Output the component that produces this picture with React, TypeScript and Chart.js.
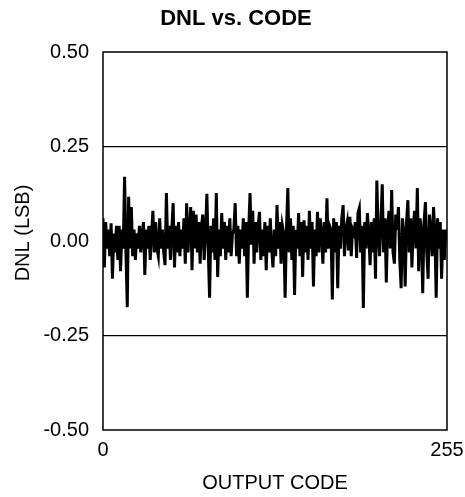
import React, { useEffect, useRef } from "react";
import { Chart, registerables } from "chart.js";

Chart.register(...registerables);

const TITLE = "DNL vs. CODE";
const X_TITLE = "OUTPUT CODE";
const Y_TITLE = "DNL (LSB)";
const X_TICKS = [0, 255];
const Y_TICKS = [-0.5, -0.25, 0, 0.25, 0.5];

// DNL per output code 0..255 (LSB)
const DNL = [
  0.06, -0.07, 0.05, -0.02, 0.03, -0.04, 0.047, -0.1, 0.02, -0.03, 0.04, -0.05, 0.04, -0.08, 0.03, -0.02,
  0.17, -0.03, -0.175, 0.117, -0.02, 0.09, -0.04, 0.03, -0.05, 0.02, -0.02, 0.04, -0.03, 0.02, 0.05, -0.09,
  0.03, -0.02, 0.04, -0.05, 0.02, 0.08, -0.03, 0.05, -0.02, -0.04, 0.06, -0.02, 0.03, -0.03, -0.064, 0.127,
  -0.02, 0.04, -0.05, 0.03, 0.1, -0.07, 0.04, -0.03, 0.05, -0.04, 0.03, -0.02, 0.06, -0.06, 0.1, -0.03,
  0.03, 0.09, -0.077, 0.08, -0.02, 0.07, -0.03, 0.05, -0.06, 0.04, 0.07, -0.05, 0.02, 0.125, -0.02, -0.15,
  0.04, -0.03, 0.06, -0.05, 0.127, -0.095, 0.03, -0.04, 0.074, -0.02, 0.05, -0.05, 0.04, -0.03, 0.06, -0.04,
  0.02, 0.03, 0.1, -0.04, 0.04, -0.06, 0.03, -0.02, 0.06, -0.04, 0.05, -0.15, 0.03, 0.127, -0.01, 0.08,
  -0.06, 0.05, -0.03, 0.04, 0.077, -0.05, 0.03, -0.04, 0.05, -0.077, 0.04, -0.03, 0.06, -0.02, -0.07, 0.03,
  -0.04, 0.095, -0.02, 0.05, -0.06, 0.04, 0.02, -0.15, 0.03, 0.14, -0.03, 0.06, -0.05, 0.04, -0.143, 0.03,
  -0.02, 0.074, -0.04, 0.05, -0.095, 0.055, -0.03, 0.04, -0.05, 0.08, -0.02, 0.05, -0.12, 0.03, -0.04, 0.077,
  -0.03, 0.06, 0.02, -0.06, 0.05, -0.03, 0.113, -0.02, 0.04, 0.03, -0.155, 0.06, -0.03, 0.05, -0.125, 0.04,
  -0.02, 0.06, 0.095, -0.04, 0.03, 0.05, -0.025, 0.064, -0.04, 0.03, 0.02, 0.05, -0.045, 0.074, 0.087, -0.03,
  0.04, -0.177, 0.05, -0.02, 0.074, 0.02, -0.064, 0.05, -0.03, 0.06, -0.1, 0.16, 0.02, -0.04, 0.05, 0.15,
  -0.03, 0.06, -0.11, 0.04, 0.08, -0.02, 0.135, -0.03, -0.06, 0.07, 0.03, 0.09, -0.05, -0.125, 0.06, 0.02,
  -0.12, 0.05, 0.108, -0.03, 0.06, -0.07, 0.04, 0.08, -0.02, 0.14, -0.08, 0.06, 0.03, -0.138, 0.05, 0.103,
  -0.03, -0.1, 0.07, 0.03, -0.04, 0.09, 0.02, -0.15, 0.06, -0.02, 0.05, -0.1, 0.03, -0.05, 0.03, 0.0,
];

const FONT = "'Liberation Sans', Arial, Helvetica, sans-serif";

export default function App() {
  const ref = useRef<HTMLCanvasElement>(null);

  useEffect(() => {
    document.body.style.margin = "0";
    const canvas = ref.current;
    if (!canvas) return;

    const textPlugin = {
      id: "extraTexts",
      afterDraw(chart: any) {
        const { ctx, chartArea } = chart;
        ctx.save();
        ctx.strokeStyle = "#000";
        ctx.lineWidth = 1.5;
        ctx.strokeRect(chartArea.left, chartArea.top, chartArea.right - chartArea.left, chartArea.bottom - chartArea.top);
        ctx.fillStyle = "#000";
        ctx.textAlign = "center";
        ctx.textBaseline = "middle";
        ctx.font = `bold 22px ${FONT}`;
        ctx.fillText(TITLE, 236, 19);
        ctx.translate(23, 233);
        ctx.rotate(-Math.PI / 2);
        ctx.font = `20px ${FONT}`;
        ctx.fillText(Y_TITLE, 0, 0);
        ctx.restore();
      },
    };

    const chart = new Chart(canvas, {
      type: "line",
      data: {
        datasets: [
          {
            data: DNL.map((v, i) => ({ x: i, y: v })),
            borderColor: "#000",
            borderWidth: 3,
            pointRadius: 0,
            tension: 0,
            fill: false,
          },
        ],
      },
      options: {
        animation: false,
        responsive: false,
        devicePixelRatio: 1,
        layout: { padding: { top: 52, right: 18, bottom: 0, left: 0 } },
        plugins: {
          legend: { display: false },
          title: { display: false },
          tooltip: { enabled: false },
        },
        scales: {
          x: {
            type: "linear",
            min: 0,
            max: 255,
            afterBuildTicks: (axis: any) => {
              axis.ticks = X_TICKS.map((v) => ({ value: v }));
            },
            afterFit: (axis: any) => {
              axis.height = 67;
              axis.paddingLeft = 0;
              axis.paddingRight = 0;
            },
            grid: { display: false, drawTicks: false },
            border: { display: false },
            ticks: {
              padding: 8,
              color: "#000",
              font: { family: FONT, size: 20 },
              maxRotation: 0,
              autoSkip: false,
              callback: (v: any) => String(v),
            },
            title: {
              display: true,
              text: X_TITLE,
              color: "#000",
              font: { family: FONT, size: 20 },
              padding: { top: 0, bottom: 2 },
            },
          },
          y: {
            type: "linear",
            min: -0.5,
            max: 0.5,
            afterBuildTicks: (axis: any) => {
              axis.ticks = Y_TICKS.map((v) => ({ value: v }));
            },
            afterFit: (axis: any) => {
              axis.width = 103;
            },
            grid: {
              drawTicks: false,
              color: (c: any) => (c.tick && Math.abs(c.tick.value) === 0.25 ? "#000" : "rgba(0,0,0,0)"),
              lineWidth: 1.2,
            },
            border: { display: false },
            ticks: {
              padding: 14,
              color: "#000",
              font: { family: FONT, size: 20 },
              callback: (v: any) => Number(v).toFixed(2),
            },
          },
        },
      },
      plugins: [textPlugin],
    });

    return () => chart.destroy();
  }, []);

  return (
    <div style={{ position: "absolute", left: 0, top: 0, width: 465, height: 497 }}>
      <canvas ref={ref} width={465} height={497} />
    </div>
  );
}
